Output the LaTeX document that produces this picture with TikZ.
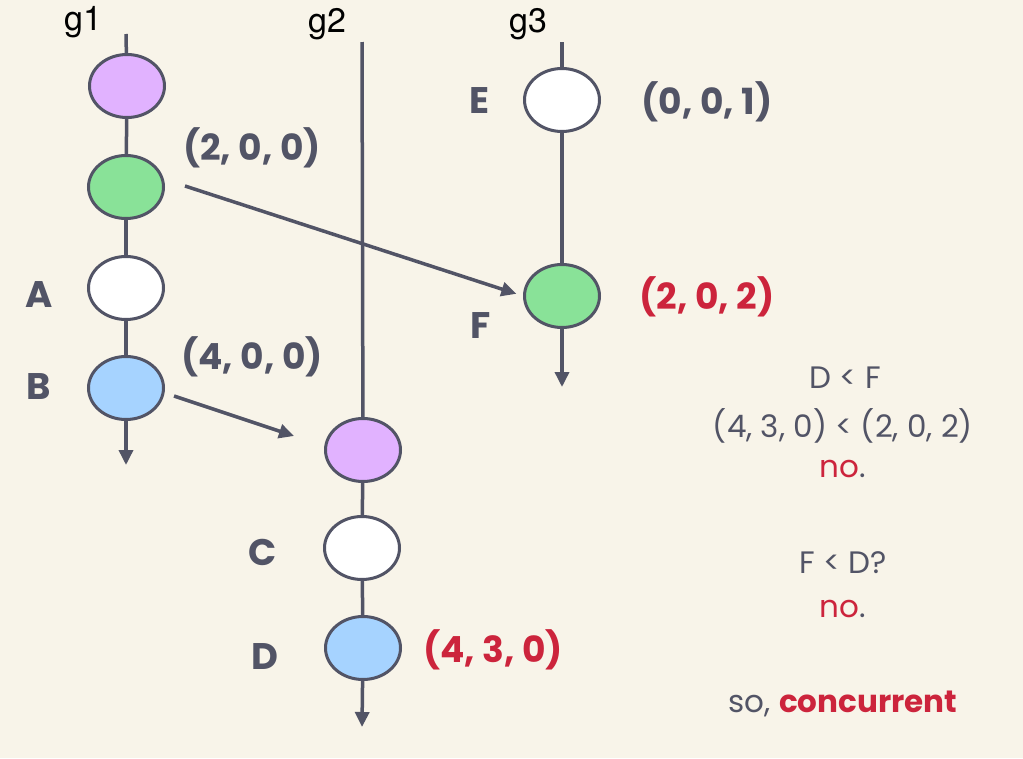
\documentclass[tikz,border=0pt]{standalone}
\usepackage{fontspec}
\setmainfont{Poppins}
\newfontfamily\glabfont{TeX Gyre Heros}
\usetikzlibrary{shapes.geometric,arrows.meta}
\definecolor{bgc}{RGB}{248,244,233}
\definecolor{linec}{RGB}{82,84,102}
\definecolor{redc}{RGB}{204,36,60}
\definecolor{purc}{RGB}{225,178,255}
\definecolor{grnc}{RGB}{137,226,152}
\definecolor{bluc}{RGB}{166,211,255}
\tikzset{
  ev/.style={ellipse, draw=linec, line width=3pt, minimum width=75pt, minimum height=63pt, inner sep=0pt},
  tl/.style={draw=linec, line width=3.5pt},
  tlarrow/.style={tl, -{Triangle[length=15pt,width=14pt]}},
  glab/.style={font=\glabfont\fontsize{34}{38}\selectfont, text=black, inner sep=0pt},
  vclab/.style={font=\fontsize{36}{40}\selectfont\bfseries, text=linec, inner sep=0pt},
  vcred/.style={vclab, text=redc},
  letlab/.style={font=\fontsize{37}{40}\selectfont\bfseries, text=linec, inner sep=0pt},
  side/.style={font=\fontsize{31}{34}\selectfont, text=linec, inner sep=0pt},
}
\begin{document}
\begin{tikzpicture}[x=1pt,y=-1pt]
\fill[bgc] (0,0) rectangle (1023,758);
\useasboundingbox (0,0) rectangle (1023,758);
% process labels
\node[glab] (g1) at (83,22) {g1};
\node[glab] (g2) at (327,24) {g2};
\node[glab] (g3) at (528,24) {g3};
% timeline ends
\coordinate (t1) at (126,34);
\coordinate (b1) at (126,465);
\coordinate (t2) at (362,42);
\coordinate (b2) at (362,727);
\coordinate (t3) at (562,42);
\coordinate (b3) at (562,387);
% events
\node[ev, fill=purc] (p1) at (127,86) {};
\node[ev, fill=grnc] (q1) at (126,187) {};
\node[ev, fill=white] (A) at (126,288) {};
\node[ev, fill=bluc] (B) at (126,388) {};
\node[ev, fill=purc] (p2) at (363,450) {};
\node[ev, fill=white] (C) at (362,548) {};
\node[ev, fill=bluc] (D) at (363,648) {};
\node[ev, fill=white] (E) at (562,100) {};
\node[ev, fill=grnc] (F) at (562,296) {};
% timelines
\draw[tl] (t1) -- (p1);
\draw[tl] (p1) -- (q1);
\draw[tl] (q1) -- (A);
\draw[tl] (A) -- (B);
\draw[tlarrow] (B) -- (b1);
\draw[tl] (t2) -- (p2);
\draw[tl] (p2) -- (C);
\draw[tl] (C) -- (D);
\draw[tlarrow] (D) -- (b2);
\draw[tl] (t3) -- (E);
\draw[tl] (E) -- (F);
\draw[tlarrow] (F) -- (b3);
% messages
\coordinate (s1) at (185,186);
\coordinate (s2) at (174,396);
\coordinate (e2) at (294,436);
\draw[tlarrow, shorten >=7pt] (s1) -- (F.west);
\draw[tlarrow] (s2) -- (e2);
% letters
\node[letlab] (lA) at (39,295) {A};
\node[letlab] (lB) at (39,387) {B};
\node[letlab] (lC) at (263,552) {C};
\node[letlab] (lD) at (265,657) {D};
\node[letlab] (lE) at (480,101) {E};
\node[letlab] (lF) at (481,326) {F};
% vector clocks
\node[vclab] (v1) at (252,148) {(2, 0, 0)};
\node[vclab] (v2) at (252,357) {(4, 0, 0)};
\node[vclab] (v3) at (707,102) {(0, 0, 1)};
\node[vcred] (v4) at (707,297) {(2, 0, 2)};
\node[vcred] (v5) at (493,650) {(4, 3, 0)};
% side text
\node[side] (s_a) at (845,378) {D < F};
\node[side] (s_b) at (843,426) {(4, 3, 0) < (2, 0, 2)};
\node[side] (s_c) at (843,469) {\textcolor{redc}{no}.};
\node[side] (s_d) at (843,563) {F < D?};
\node[side] (s_e) at (843,609) {\textcolor{redc}{no}.};
\node[side] (s_f) at (843,704) {so, \textcolor{redc}{\bfseries concurrent}};
\end{tikzpicture}
\end{document}
